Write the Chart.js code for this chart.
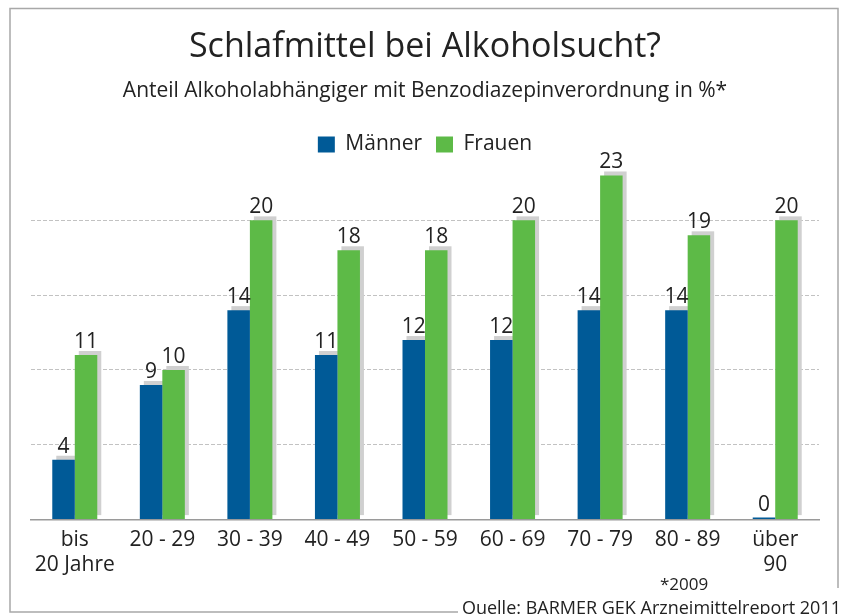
<!DOCTYPE html>
<html>
<head>
<meta charset="utf-8">
<script src="https://cdn.jsdelivr.net/npm/chart.js@4/dist/chart.umd.min.js"></script>
<style>
  body { margin: 0; background: #fff; }
</style>
</head>
<body>
<canvas id="chart" width="843" height="614"></canvas>
<script>
// data
const ageGroups = [['bis', '20 Jahre'], '20 - 29', '30 - 39', '40 - 49', '50 - 59', '60 - 69', '70 - 79', '80 - 89', ['über', '90']];
const maenner = [4, 9, 14, 11, 12, 12, 14, 14, 0];
const frauen = [11, 10, 20, 18, 18, 20, 23, 19, 20];
const seriesNames = ['Männer', 'Frauen'];

const FONT = '"Open Sans", "Noto Sans", sans-serif';
const BLUE = '#005a97';
const GREEN = '#5dba47';

// grey drop shadow behind each bar (offset right and up)
const barShadows = {
    id: 'barShadows',
    beforeDatasetsDraw(chart) {
        const ctx = chart.ctx;
        ctx.save();
        ctx.fillStyle = '#d0d0d0';
        chart.data.datasets.forEach((ds, i) => {
            chart.getDatasetMeta(i).data.forEach((bar, j) => {
                if (!ds.data[j]) return;
                const w = bar.width;
                ctx.fillRect(bar.x - w / 2 + 4, bar.y - 4, w, bar.base - bar.y);
            });
        });
        ctx.restore();
    }
};

// numbers above the bars
const valueLabels = {
    id: 'valueLabels',
    afterDatasetsDraw(chart) {
        const ctx = chart.ctx;
        ctx.save();
        ctx.font = '500 21px ' + FONT;
        ctx.fillStyle = '#222';
        ctx.textAlign = 'center';
        ctx.textBaseline = 'alphabetic';
        chart.data.datasets.forEach((ds, i) => {
            chart.getDatasetMeta(i).data.forEach((bar, j) => {
                ctx.fillText(ds.data[j], bar.x, bar.y - 7);
            });
        });
        ctx.restore();
    }
};

// frame and footnotes
const frame = {
    id: 'frame',
    afterDraw(chart) {
        const ctx = chart.ctx;
        ctx.save();
        ctx.strokeStyle = '#a8a8a8';
        ctx.lineWidth = 1.5;
        ctx.beginPath();
        ctx.moveTo(458, 612);
        ctx.lineTo(10, 612);
        ctx.lineTo(10, 8.5);
        ctx.lineTo(838, 8.5);
        ctx.lineTo(838, 588);
        ctx.stroke();

        ctx.fillStyle = '#222';
        ctx.font = '17px ' + FONT;
        ctx.textAlign = 'center';
        ctx.fillText('*2009', 684, 585);
        ctx.font = '18px ' + FONT;
        ctx.textAlign = 'right';
        ctx.fillText('Quelle: BARMER GEK Arzneimittelreport 2011', 841, 609);
        ctx.restore();
    }
};

new Chart(document.getElementById('chart'), {
    type: 'bar',
    data: {
        labels: ageGroups,
        datasets: [
            { label: seriesNames[0], data: maenner, backgroundColor: BLUE, borderWidth: 0, minBarLength: 2 },
            { label: seriesNames[1], data: frauen, backgroundColor: GREEN, borderWidth: 0 }
        ]
    },
    options: {
        responsive: false,
        animation: false,
        layout: { padding: { left: 31, right: 24, top: 10, bottom: 28 } },
        datasets: {
            bar: { barPercentage: 1, categoryPercentage: 0.514 }
        },
        scales: {
            x: {
                grid: { display: false, drawTicks: false },
                border: { display: true, color: '#9a9a9a', width: 1.5 },
                ticks: { color: '#222', padding: 8, font: { family: FONT, size: 21, lineHeight: 1.2 } }
            },
            y: {
                min: 0,
                max: 23.7,
                ticks: { display: false, stepSize: 5 },
                border: { display: false, dash: [4, 2] },
                grid: {
                    drawTicks: false,
                    color: c => (c.tick.value > 0 && c.tick.value <= 20) ? '#c2c2c2' : 'transparent',
                    lineWidth: 1
                }
            }
        },
        plugins: {
            title: {
                display: true,
                text: 'Schlafmittel bei Alkoholsucht?',
                color: '#222',
                font: { family: FONT, size: 34, weight: 'normal' },
                padding: { top: 17, bottom: 6 }
            },
            subtitle: {
                display: true,
                text: 'Anteil Alkoholabhängiger mit Benzodiazepinverordnung in %*',
                color: '#222',
                font: { family: FONT, size: 21 },
                padding: { top: 5, bottom: 16 }
            },
            legend: {
                labels: {
                    color: '#222',
                    boxWidth: 17,
                    boxHeight: 16,
                    padding: 14,
                    font: { family: FONT, size: 21 }
                }
            },
            tooltip: { enabled: false }
        }
    },
    plugins: [barShadows, valueLabels, frame]
});
</script>
</body>
</html>
